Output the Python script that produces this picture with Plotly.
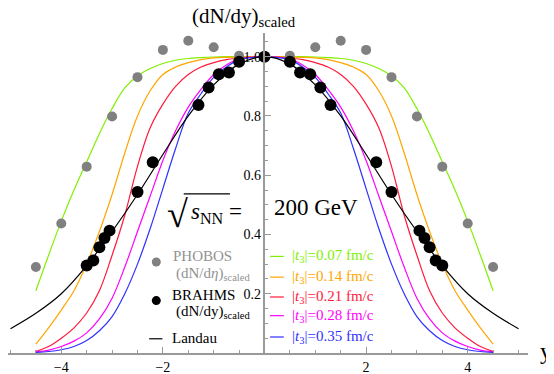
import plotly.graph_objects as go

# ---- data ---------------------------------------------------------------
# rapidity grid for the |t3| curves
y_grid = [-4.5, -4.25, -4.0, -3.75, -3.5, -3.25, -3.0, -2.75, -2.5, -2.25, -2.0,
          -1.75, -1.5, -1.25, -1.0, -0.75, -0.5, -0.25, 0.0, 0.25, 0.5, 0.75, 1.0,
          1.25, 1.5, 1.75, 2.0, 2.25, 2.5, 2.75, 3.0, 3.25, 3.5, 3.75, 4.0, 4.25, 4.5]

t3_007 = [0.21, 0.33, 0.445, 0.55, 0.645, 0.74, 0.825, 0.895, 0.935, 0.96, 0.977,
          0.988, 0.994, 0.997, 0.999, 1.0, 1.0, 1.0, 1.0, 1.0, 1.0, 1.0, 0.999,
          0.997, 0.994, 0.988, 0.977, 0.96, 0.935, 0.895, 0.825, 0.74, 0.645, 0.55, 0.445, 0.33, 0.21]
t3_014 = [0.03, 0.085, 0.145, 0.21, 0.30, 0.41, 0.535, 0.675, 0.80, 0.885, 0.94,
          0.965, 0.98, 0.99, 0.996, 0.998, 0.999, 1.0, 1.0, 1.0, 0.999, 0.998, 0.996,
          0.99, 0.98, 0.965, 0.94, 0.885, 0.80, 0.675, 0.535, 0.41, 0.30, 0.21, 0.145, 0.085, 0.03]
t3_021 = [0.006, 0.022, 0.05, 0.085, 0.135, 0.21, 0.33, 0.465, 0.63, 0.76, 0.84,
          0.90, 0.94, 0.965, 0.98, 0.99, 0.995, 0.999, 1.0, 0.999, 0.995, 0.99, 0.98,
          0.965, 0.94, 0.90, 0.84, 0.76, 0.63, 0.465, 0.33, 0.21, 0.135, 0.085, 0.05, 0.022, 0.006]
t3_028 = [0.004, 0.01, 0.022, 0.04, 0.068, 0.115, 0.185, 0.29, 0.41, 0.53, 0.65,
          0.75, 0.83, 0.89, 0.94, 0.972, 0.993, 0.998, 1.0, 0.998, 0.993, 0.972, 0.94,
          0.89, 0.83, 0.75, 0.65, 0.53, 0.41, 0.29, 0.185, 0.115, 0.068, 0.04, 0.022, 0.01, 0.004]
t3_035 = [0.002, 0.005, 0.011, 0.022, 0.042, 0.075, 0.123, 0.20, 0.30, 0.42, 0.555,
          0.69, 0.81, 0.875, 0.93, 0.965, 0.99, 0.997, 1.0, 0.997, 0.99, 0.965, 0.93,
          0.875, 0.81, 0.69, 0.555, 0.42, 0.30, 0.20, 0.123, 0.075, 0.042, 0.022, 0.011, 0.005, 0.002]

landau_y = [-5.0, -4.5, -4.0, -3.5, -3.0, -2.5, -2.0, -1.5, -1.0, -0.5, 0.0,
            0.5, 1.0, 1.5, 2.0, 2.5, 3.0, 3.5, 4.0, 4.5, 5.0]
landau_v = [0.082, 0.134, 0.20, 0.295, 0.41, 0.535, 0.67, 0.80, 0.905, 0.975, 1.0,
            0.975, 0.905, 0.80, 0.67, 0.535, 0.41, 0.295, 0.20, 0.134, 0.082]

phobos_eta = [-4.5, -4.0, -3.5, -3.0, -2.5, -2.0, -1.5, -1.0, -0.5,
              0.5, 1.0, 1.5, 2.0, 2.5, 3.0, 3.5, 4.0, 4.5]
phobos_v = [0.29, 0.437, 0.629, 0.798, 0.931, 1.023, 1.054, 1.032, 1.003,
            1.003, 1.032, 1.054, 1.023, 0.931, 0.798, 0.629, 0.437, 0.29]

brahms_y = [-3.5, -3.37, -3.25, -3.15, -3.05, -2.5, -2.2, -1.3, -1.1, -0.9, -0.7, -0.5,
            0.0, 0.5, 0.7, 0.9, 1.1, 1.3, 2.2, 2.5, 3.05, 3.15, 3.25, 3.37, 3.5]
brahms_v = [0.295, 0.312, 0.357, 0.388, 0.413, 0.543, 0.644, 0.837, 0.896, 0.941, 0.947, 0.983,
            1.0, 0.983, 0.947, 0.941, 0.896, 0.837, 0.644, 0.543, 0.413, 0.388, 0.357, 0.312, 0.295]

t3_labels = ["0.07", "0.14", "0.21", "0.28", "0.35"]
x_ticks = [-4, -2, 2, 4]
x_ticktext = ["−4", "−2", "2", "4"]
y_ticks = [0.2, 0.4, 0.6, 0.8, 1.0]
y_ticktext = ["0.2", "0.4", "0.6", "0.8", "1.0"]

# ---- styling ---------------------------------------------------------------
GREEN = "#80f000"
ORANGE = "#ffa500"
RED = "#ff1a3c"
MAGENTA = "#ff00ff"
BLUE = "#3030ff"
GREY = "#808080"
AXIS = "#9a9a9a"
SERIF = "Liberation Serif, Times New Roman, serif"

# page body has an 8px margin, so the figure is drawn 8px smaller
X_MIN, X_MAX = -5.049, 5.187
Y_MIN, Y_MAX = 0.0, 1.08

fig = go.Figure()

for vals, col in zip([t3_007, t3_014, t3_021, t3_028, t3_035],
                     [GREEN, ORANGE, RED, MAGENTA, BLUE]):
    fig.add_trace(go.Scatter(x=y_grid, y=vals, mode="lines",
                             line=dict(color=col, width=1.2, shape="spline"),
                             hoverinfo="skip"))

fig.add_trace(go.Scatter(x=landau_y, y=landau_v, mode="lines",
                         line=dict(color="black", width=1.2, shape="spline"),
                         hoverinfo="skip"))
fig.add_trace(go.Scatter(x=phobos_eta, y=phobos_v, mode="markers",
                         marker=dict(color=GREY, size=10), cliponaxis=False))
fig.add_trace(go.Scatter(x=brahms_y, y=brahms_v, mode="markers",
                         marker=dict(color="black", size=12), cliponaxis=False))


def txt(text, x, y, size=15, color="black", xref="x", yref="y"):
    return dict(text=text, x=x, y=y, xref=xref, yref=yref, xanchor="left",
                yanchor="middle", showarrow=False,
                font=dict(family=SERIF, size=size, color=color))


ann = [
    txt("(dN/dy)<sub>scaled</sub>", 0.35, 1.05, size=21, xref="paper", yref="paper"),
    txt("y", 1.02, 0.005, size=24, xref="paper", yref="paper"),
    txt("√", -1.96, 0.468, size=38),
    txt("<i>s</i><sub>NN</sub> =", -1.48, 0.472, size=23),
    txt("200 GeV", 0.14, 0.49, size=23),
    txt("PHOBOS", -1.84, 0.326, color="#929292"),
    txt("(dN/d<i>η</i>)<sub>scaled</sub>", -1.78, 0.265, color="#929292"),
    txt("BRAHMS", -1.86, 0.197),
    txt("(dN/dy)<sub>scaled</sub>", -1.78, 0.137),
    txt("Landau", -1.86, 0.05),
]

rows_v = [0.326, 0.256, 0.189, 0.126, 0.054]
t3_cols = [GREEN, ORANGE, RED, MAGENTA, BLUE]
for lab, col, v in zip(t3_labels, t3_cols, rows_v):
    ann.append(txt("|<i>t</i><sub>3</sub>|=" + lab + " fm/c", 0.5, v, color=col))

shapes = [dict(type="line", x0=0.11, x1=0.38, y0=v, y1=v, line=dict(color=c, width=1.2))
          for c, v in zip(t3_cols, rows_v)]
shapes.append(dict(type="line", x0=-2.27, x1=-2.01, y0=0.048, y1=0.048,
                   line=dict(color="black", width=1.2)))
# radical overline
shapes.append(dict(type="line", x0=-1.59, x1=-0.68, y0=0.537, y1=0.537,
                   line=dict(color="black", width=1.3)))

# legend markers
fig.add_trace(go.Scatter(x=[-2.13], y=[0.307], mode="markers",
                         marker=dict(color=GREY, size=9), cliponaxis=False))
fig.add_trace(go.Scatter(x=[-2.13], y=[0.177], mode="markers",
                         marker=dict(color="black", size=9), cliponaxis=False))

axis_common = dict(showgrid=False, zeroline=False, showline=True, linecolor=AXIS,
                   linewidth=1.5, ticks="inside", ticklen=6, tickcolor=AXIS,
                   tickfont=dict(family=SERIF, size=14, color="black"),
                   automargin=False)

fig.update_layout(
    template="none",
    width=546, height=366,
    margin=dict(l=0, r=26, t=25, b=21),
    paper_bgcolor="white", plot_bgcolor="white",
    showlegend=False,
    annotations=ann, shapes=shapes,
    xaxis=dict(range=[X_MIN, X_MAX], tickvals=x_ticks, ticktext=x_ticktext,
               minor=dict(dtick=0.5, tick0=0, ticks="inside", ticklen=3,
                          tickcolor=AXIS, showgrid=False),
               **axis_common),
    yaxis=dict(range=[Y_MIN, Y_MAX], tickvals=y_ticks, ticktext=y_ticktext,
               anchor="free", position=(0 - X_MIN) / (X_MAX - X_MIN),
               minor=dict(dtick=0.05, tick0=0, ticks="inside", ticklen=3,
                          tickcolor=AXIS, showgrid=False),
               **axis_common),
)

fig.write_html("out.html")
